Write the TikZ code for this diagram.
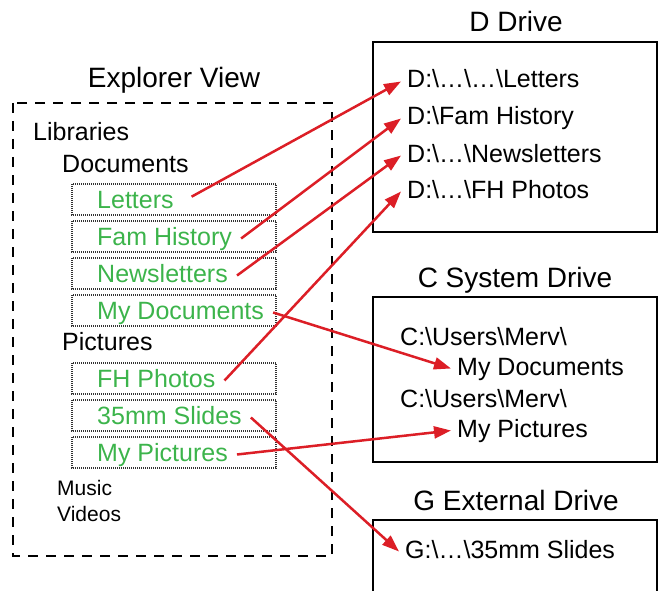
\documentclass[tikz,border=0pt]{standalone}
\usepackage{fontspec}
\setmainfont{Liberation Sans}
\usetikzlibrary{arrows.meta}
\definecolor{libgreen}{RGB}{60,180,75}
\definecolor{linkred}{RGB}{220,30,38}
\newcommand{\bsl}{\textbackslash}

\begin{document}
\begin{tikzpicture}[x=1pt,y=-1pt,
  title/.style={anchor=base,font=\fontsize{28}{32}\selectfont},
  txt/.style={anchor=base west,inner xsep=6pt,inner ysep=0pt,text height=18pt,text depth=5pt,font=\fontsize{25}{30}\selectfont},
  lib/.style={txt,text=libgreen,inner xsep=9pt},
  small/.style={anchor=base west,inner sep=0pt,font=\fontsize{21}{25}\selectfont},
  slot/.style={draw=black!80,line width=1.5pt,dash pattern=on 1pt off 1pt},
  drive/.style={draw=black,line width=2.5pt},
  link/.style={draw=linkred,line width=2.5pt,-{Triangle[length=17pt,width=12pt]}}]
\useasboundingbox (0,0) rectangle (664,591);

% explorer side
\node[title] (expl) at (174,88) {Explorer View};
\draw[line width=2.5pt,dash pattern=on 10pt off 8pt] (13,103) rectangle (332,556);
\node[txt] (libs) at (27,141) {Libraries};
\node[txt] (docs) at (56,172) {Documents};
\node[txt] (pics) at (56,350) {Pictures};
\node[small] (music) at (57,495) {Music};
\node[small] (videos) at (57,521) {Videos};
\foreach \b in {208,245,282,319,387,424,461}
  \draw[slot] (72,\b-24) rectangle (276,\b+7);
\node[lib] (letters) at (88,208) {Letters};
\node[lib] (famhist) at (88,245) {Fam History};
\node[lib] (news) at (88,282) {Newsletters};
\node[lib] (mydocs) at (88,319) {My Documents};
\node[lib] (fhphotos) at (88,387) {FH Photos};
\node[lib] (slides) at (88,424) {35mm Slides};
\node[lib] (mypics) at (88,461) {My Pictures};

% D drive
\node[title] (dtitle) at (516,32) {D Drive};
\draw[drive] (373,42) rectangle (657,232);
\node[txt] (dlet) at (401,88) {D:\bsl…\bsl…\bsl Letters};
\node[txt] (dfam) at (401,125) {D:\bsl Fam History};
\node[txt] (dnews) at (401,162) {D:\bsl…\bsl Newsletters};
\node[txt] (dfh) at (401,198) {D:\bsl…\bsl FH Photos};

% C drive
\node[title] (ctitle) at (515,287) {C System Drive};
\draw[drive] (373,297) rectangle (657,462);
\node[txt] (cusr1) at (394,345) {C:\bsl Users\bsl Merv\bsl};
\node[txt] (cdocs) at (451,375) {My Documents};
\node[txt] (cusr2) at (394,407) {C:\bsl Users\bsl Merv\bsl};
\node[txt] (cpics) at (451,437) {My Pictures};

% G drive
\node[title] (gtitle) at (516,510) {G External Drive};
\draw[drive] (373,596) |- (657,520) -- (657,596);
\node[txt] (gslides) at (399,558) {G:\bsl…\bsl 35mm Slides};

% links
\draw[link,shorten <=10pt] (letters.east) -- (dlet.west);
\draw[link] (famhist.east) -- (dfam.west);
\draw[link] (news.east) -- (dnews.west);
\draw[link] (fhphotos.east) -- (dfh.west);
\draw[link] (mydocs.east) -- (cdocs.west);
\draw[link] (mypics.east) -- (cpics.west);
\draw[link] (slides.east) -- (gslides.west);
\end{tikzpicture}
\end{document}
